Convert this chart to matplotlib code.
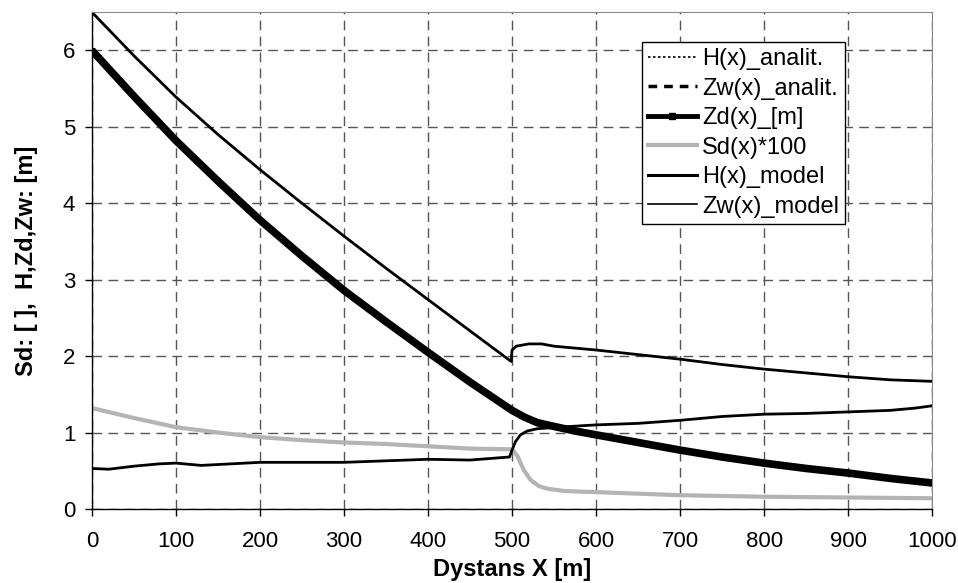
"""
Recreation of the Sd / H / Zd / Zw profile chart along the distance axis.
"""
import matplotlib
matplotlib.use('Agg')  # Use non-interactive backend
import matplotlib.pyplot as plt
from matplotlib.lines import Line2D

plt.rcParams['font.family'] = ['Liberation Sans', 'DejaVu Sans']

# H(x)_model - upper line
h_x = [0, 50, 100, 150, 200, 250, 300, 350, 400, 450, 499, 500, 505, 520, 535, 550,
       600, 650, 700, 750, 800, 850, 900, 950, 1000]
h_y = [6.50, 5.93, 5.39, 4.90, 4.44, 4.00, 3.57, 3.15, 2.74, 2.33, 1.93, 2.08, 2.13, 2.16,
       2.16, 2.13, 2.08, 2.02, 1.96, 1.89, 1.83, 1.78, 1.73, 1.69, 1.67]

# Zd(x)_[m] - thick line
zd_x = [0, 50, 100, 150, 200, 250, 300, 350, 400, 450, 500, 515, 530, 550, 575, 600,
        650, 700, 750, 800, 850, 900, 950, 1000]
zd_y = [6.00, 5.40, 4.82, 4.29, 3.78, 3.31, 2.86, 2.45, 2.05, 1.66, 1.29, 1.20, 1.13,
        1.08, 1.02, 0.97, 0.87, 0.77, 0.68, 0.60, 0.53, 0.47, 0.40, 0.34]

# Zw(x)_model - lower line
zw_x = [0, 20, 50, 80, 100, 130, 200, 300, 400, 450, 497, 500, 504, 510, 518, 530, 562,
        600, 650, 700, 750, 800, 850, 900, 950, 980, 1000]
zw_y = [0.53, 0.52, 0.56, 0.59, 0.60, 0.57, 0.61, 0.61, 0.65, 0.64, 0.68, 0.77, 0.88,
        0.97, 1.02, 1.05, 1.075, 1.10, 1.12, 1.16, 1.21, 1.24, 1.25, 1.27, 1.29, 1.32, 1.35]

# Sd(x)*100 - grey line
sd_x = [0, 50, 100, 150, 200, 250, 300, 350, 400, 450, 500, 506, 514, 522, 532, 542,
        562, 600, 650, 700, 800, 900, 1000]
sd_y = [1.32, 1.19, 1.07, 1.00, 0.94, 0.90, 0.87, 0.85, 0.82, 0.79, 0.78, 0.70, 0.51,
        0.38, 0.30, 0.265, 0.235, 0.22, 0.20, 0.18, 0.16, 0.15, 0.14]

x_ticks = list(range(0, 1001, 100))
y_ticks = list(range(0, 7))

fig = plt.figure(figsize=(9.58, 5.83), dpi=100)
ax = fig.add_axes([0.096, 0.127, 0.877, 0.852])

grid_kw = dict(color="#555555", lw=1.0, linestyle=(0, (7, 4.5)))
ax.set_xticks(x_ticks)
ax.set_yticks(y_ticks)
ax.grid(True, **grid_kw)
ax.set_axisbelow(True)

ax.plot(sd_x, sd_y, color="#b4b4b4", lw=3.0, solid_capstyle="butt")
ax.plot(zd_x, zd_y, color="black", lw=5.5, marker="s", ms=3, solid_capstyle="butt")
ax.plot(h_x, h_y, color="black", lw=2.0)
ax.plot(zw_x, zw_y, color="black", lw=2.0)

ax.set_xlim(0, 1000)
ax.set_ylim(0, 6.5)

for side in ["top", "right"]:
    ax.spines[side].set_color("#888888")
for side in ["left", "bottom"]:
    ax.spines[side].set_color("black")
    ax.spines[side].set_linewidth(1.0)

ax.tick_params(direction="out", length=5, width=1, labelsize=16)
ax.tick_params(axis="x", pad=11)
ax.tick_params(axis="y", pad=7)
ax.set_xlabel("Dystans X [m]", fontsize=17, fontweight="bold", labelpad=4)
ax.set_ylabel("Sd: [ ],  H,Zd,Zw: [m]", fontsize=17, fontweight="bold", labelpad=18)

handles = [
    Line2D([], [], color="black", lw=1.2, linestyle=(0, (1.5, 1.5))),
    Line2D([], [], color="black", lw=2.5, linestyle=(0, (2.5, 2))),
    Line2D([], [], color="black", lw=3.5, marker="s", ms=4),
    Line2D([], [], color="#b4b4b4", lw=3.0),
    Line2D([], [], color="black", lw=2.2),
    Line2D([], [], color="black", lw=1.2),
]
labels = ["H(x)_analit.", "Zw(x)_analit.", "Zd(x)_[m]", "Sd(x)*100",
          "H(x)_model", "Zw(x)_model"]
leg = ax.legend(handles, labels, loc="upper right", bbox_to_anchor=(0.896, 0.940),
                borderaxespad=0, fontsize=17, numpoints=1, handlelength=2.1,
                handletextpad=0.2, labelspacing=0.32, borderpad=0.25,
                fancybox=False, framealpha=1, edgecolor="black")
leg.get_frame().set_linewidth(1.0)

plt.savefig("out.png", dpi=100)
plt.close()
